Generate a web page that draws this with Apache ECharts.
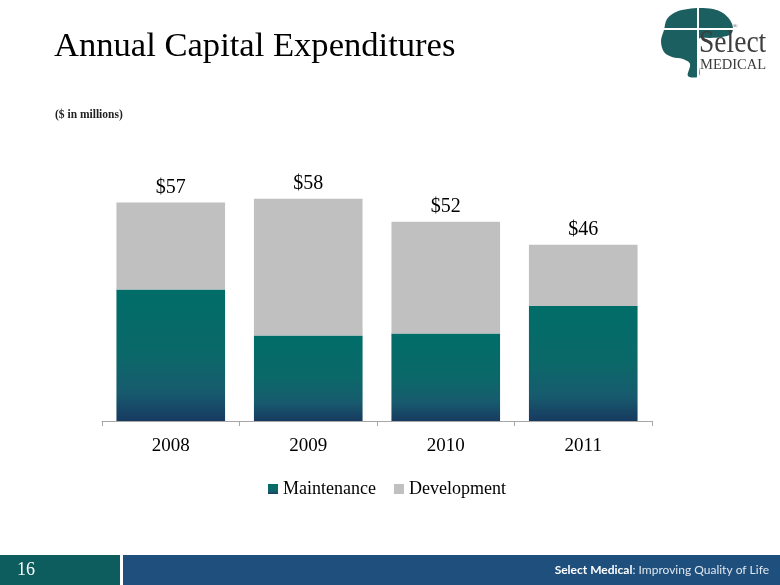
<!DOCTYPE html>
<html>
<head>
<meta charset="utf-8">
<script src="https://cdn.jsdelivr.net/npm/echarts@6/dist/echarts.min.js"></script>
<style>
html,body{margin:0;padding:0;background:#fff;}
#chart{width:780px;height:585px;}
</style>
</head>
<body>
<div id="chart"></div>
<script>
// ---- data ----
var years = ['2008', '2009', '2010', '2011'];
var maintenance = [34.3, 22.3, 22.8, 30.0];
var development = [22.7, 35.7, 29.2, 16.0];
var totals = [57, 58, 52, 46];
var seriesNames = ['Maintenance', 'Development'];

var chart = echarts.init(document.getElementById('chart'), null, {renderer: 'canvas'});
var serif = '"Liberation Serif", "Times New Roman", serif';
var sans = 'Lato, "Open Sans", sans-serif';

var maintGradient = new echarts.graphic.LinearGradient(0, 0, 0, 1, [
  {offset: 0, color: '#006d68'},
  {offset: 0.5, color: '#0b6869'},
  {offset: 0.78, color: '#175b6e'},
  {offset: 1, color: '#173a60'}
]);

var option = {
  animation: false,
  backgroundColor: '#ffffff',
  title: {
    text: 'Annual Capital Expenditures',
    left: 49, top: 24,
    textStyle: {fontFamily: serif, fontSize: 34.6, fontWeight: 'normal', color: '#000'}
  },
  legend: {
    data: seriesNames,
    left: 263, top: 475,
    itemWidth: 10, itemHeight: 10, itemGap: 18,
    icon: 'rect',
    textStyle: {fontFamily: serif, fontSize: 18, color: '#000'}
  },
  grid: {left: 102, right: 128, top: 191, bottom: 164, containLabel: false},
  xAxis: {
    type: 'category',
    data: years,
    axisLine: {lineStyle: {color: '#a6a6a6', width: 1}},
    axisTick: {show: true, length: 5, lineStyle: {color: '#a6a6a6'}},
    axisLabel: {fontFamily: serif, fontSize: 19, color: '#000', margin: 16}
  },
  yAxis: {
    type: 'value', min: 0, max: 60, show: false,
    splitLine: {show: false}
  },
  series: [
    {
      name: seriesNames[0], type: 'bar', stack: 'total',
      data: maintenance, barCategoryGap: '21%',
      itemStyle: {color: maintGradient}
    },
    {
      name: seriesNames[1], type: 'bar', stack: 'total',
      data: development, barCategoryGap: '21%',
      itemStyle: {color: '#c0c0c0'},
      label: {
        show: true, position: 'top', distance: 5,
        fontFamily: serif, fontSize: 20, color: '#000',
        formatter: function (p) { return '$' + totals[p.dataIndex]; }
      }
    }
  ],
  graphic: [
    {type: 'text', left: 55, top: 109,
     style: {text: '($ in millions)', font: 'bold 11.5px ' + serif, fill: '#222'}},
    // footer
    {type: 'rect', shape: {x: 0, y: 555, width: 120, height: 30}, style: {fill: '#0d5d5f'}},
    {type: 'rect', shape: {x: 123, y: 555, width: 657, height: 30}, style: {fill: '#1f4f7d'}},
    {type: 'text', x: 17, y: 570,
     style: {text: '16', font: '18px ' + serif, fill: '#ffffff', verticalAlign: 'middle'}},
    {type: 'text', x: 769, y: 570,
     style: {
       text: '{b|Select Medical}{n|: Improving Quality of Life}',
       align: 'right', verticalAlign: 'middle',
       rich: {
         b: {font: 'bold 12px ' + sans, fill: '#ffffff'},
         n: {font: '12px ' + sans, fill: '#dfe7ef'}
       }
     }},
    // logo
    {type: 'polygon', shape: {smooth: 0.35, points: [
      [664, 30], [667, 19], [676, 12], [688, 9], [700, 8], [713, 9], [723, 13], [730, 20], [733, 28],
      [731, 34], [722, 37], [710, 38], [699, 39], [698, 60], [699, 76], [688, 76], [690, 64],
      [683, 59], [672, 57], [664, 52], [661, 41]
    ]}, style: {fill: '#1b5f60'}},
    {type: 'rect', shape: {x: 697, y: 6, width: 2, height: 72}, style: {fill: '#ffffff'}},
    {type: 'rect', shape: {x: 658, y: 28, width: 78, height: 2}, style: {fill: '#ffffff'}},
    {type: 'text', x: 699, y: 60, scaleX: 0.86,
     style: {text: 'Select', font: '32px ' + serif, fill: '#3d3d3d', verticalAlign: 'bottom', align: 'left'}},
    {type: 'text', x: 700, y: 73,
     style: {text: 'MEDICAL', font: '14.5px ' + serif, fill: '#3d3d3d', verticalAlign: 'bottom', align: 'left'}},
    {type: 'text', x: 733, y: 26,
     style: {text: '\u00ae', font: '6px ' + serif, fill: '#3d3d3d', verticalAlign: 'middle'}}
  ]
};
chart.setOption(option);
</script>
</body>
</html>
